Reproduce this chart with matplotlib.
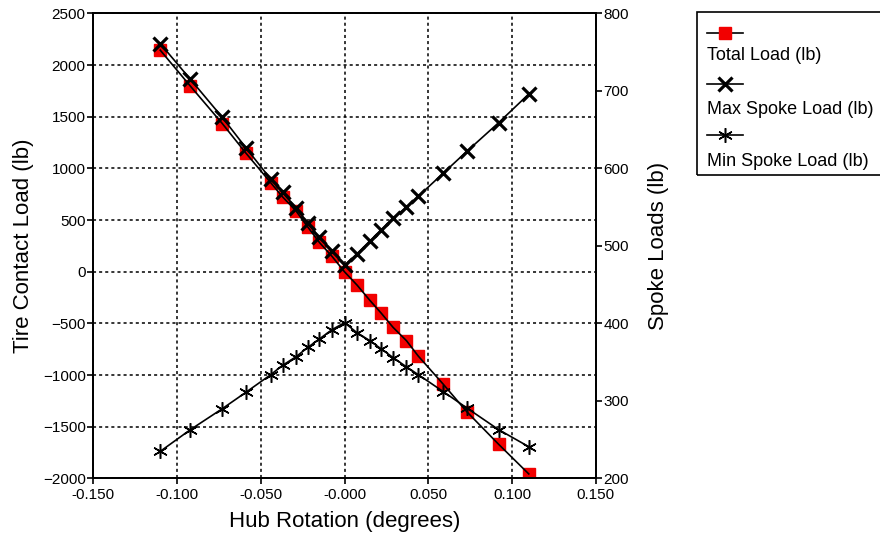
import matplotlib
matplotlib.use('Agg')
import matplotlib.pyplot as plt
from matplotlib.lines import Line2D
from matplotlib.patches import Rectangle

plt.rcParams['font.family'] = ['Liberation Sans', 'DejaVu Sans']

# data
rotation = [-0.110, -0.092, -0.073, -0.059, -0.044, -0.037, -0.029, -0.022, -0.015, -0.0075, 0.0,
            0.0075, 0.015, 0.022, 0.029, 0.037, 0.044, 0.059, 0.073, 0.092, 0.110]
total_load = [2144, 1796, 1435, 1151, 861, 725, 590, 435, 284, 150, 0,
              -129, -274, -402, -538, -667, -815, -1089, -1354, -1669, -1956]
max_spoke = [761, 715, 666, 627, 586, 569, 549, 529, 511, 494, 475,
             490, 506, 521, 536, 550, 564, 594, 622, 659, 696]
min_spoke = [235, 263, 290, 311, 334, 346, 357, 369, 380, 392, 401,
             388, 378, 367, 356, 344, 334, 312, 291, 263, 241]

xticks = [-0.150, -0.100, -0.050, 0.0, 0.050, 0.100, 0.150]
xtick_labels = ['-0.150', '-0.100', '-0.050', '-0.000', '0.050', '0.100', '0.150']
left_ticks = [-2000, -1500, -1000, -500, 0, 500, 1000, 1500, 2000, 2500]
right_ticks = [200, 300, 400, 500, 600, 700, 800]
series_names = ['Total Load (lb)', 'Max Spoke Load (lb)', 'Min Spoke Load (lb)']

red = '#f20000'

fig = plt.figure(figsize=(8.8, 5.42), dpi=100)
ax = fig.add_axes([0.106, 0.1172, 0.571, 0.858])
ax2 = ax.twinx()

# total load: squares under the line
ax.plot(rotation, total_load, ls='none', marker='s', ms=8.5, color=red, mec=red, zorder=2)
ax.plot(rotation, total_load, color='black', lw=1.2, zorder=3)

ax2.plot(rotation, max_spoke, color='black', lw=1.2, marker='x', ms=10.5, mew=2.3)
ax2.plot(rotation, min_spoke, color='black', lw=1.2, marker=(6, 2, 0), ms=10.5, mew=1.1)

ax.set_xlim(-0.15, 0.15)
ax.set_ylim(-2000, 2500)
ax2.set_ylim(200, 800)
ax.set_xticks(xticks)
ax.set_xticklabels(xtick_labels)
ax.set_yticks(left_ticks)
ax2.set_yticks(right_ticks)

ax.set_axisbelow(True)
ax.grid(True, color='black', linestyle=(0, (2, 2)), lw=1.1)

for a in (ax, ax2):
    for s in a.spines.values():
        s.set_linewidth(1.3)
    a.tick_params(direction='out', length=4.5, width=1.2, pad=1)
ax.tick_params(axis='y', labelsize=11)
ax.tick_params(axis='x', labelsize=11, pad=2)
ax2.tick_params(axis='y', labelsize=11)

ax.set_xlabel('Hub Rotation (degrees)', fontsize=16, labelpad=7)
ax.set_ylabel('Tire Contact Load (lb)', fontsize=16, labelpad=6)
ax2.set_ylabel('Spoke Loads (lb)', fontsize=16, labelpad=14)

# legend box with handle above each label
W, H = 880.0, 542.0
fig.add_artist(Rectangle((697 / W, 1 - 175 / H), 200 / W, 163 / H, transform=fig.transFigure,
                         fill=False, ec='black', lw=1.2, clip_on=False))
handle_y = [33, 84, 135]
text_y = [56, 109, 162]
styles = [dict(marker='s', ms=8.5, mfc=red, mec=red),
          dict(marker='x', ms=10.5, mew=2.3, mfc='black', mec='black'),
          dict(marker=(6, 2, 0), ms=10.5, mew=1.1, mfc='black', mec='black')]
for hy, ty, name, st in zip(handle_y, text_y, series_names, styles):
    fig.add_artist(Line2D([707 / W, 743 / W], [1 - hy / H, 1 - hy / H], transform=fig.transFigure,
                          color='black', lw=1.2))
    fig.add_artist(Line2D([725 / W], [1 - hy / H], transform=fig.transFigure, ls='none', **st))
    fig.text(707 / W, 1 - ty / H, name, fontsize=13, va='center', ha='left')

fig.savefig('out.png', dpi=100)
